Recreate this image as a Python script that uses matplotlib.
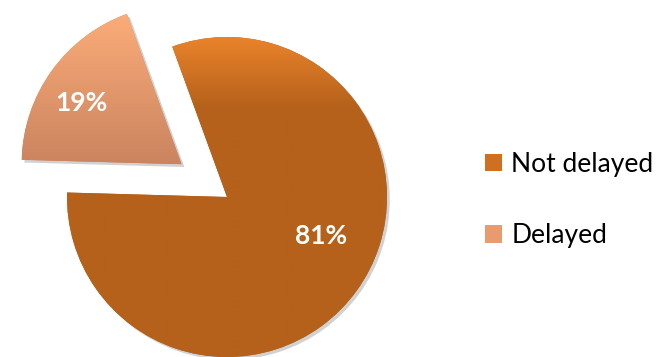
import numpy as np
import matplotlib.pyplot as plt
import matplotlib.patheffects as pe
from matplotlib.colors import LinearSegmentedColormap
from matplotlib.patches import Patch

# share of shipments
labels = ['Not delayed', 'Delayed']
shares = [81, 19]

# gradient stops per slice (top colour, bottom colour)
top_colors = ['#E9832B', '#FCAC79']
bottom_colors = ['#B5611B', '#CA845F']
legend_colors = ['#CF6F22', '#E99B70']

plt.rcParams['font.family'] = ['Lato', 'DejaVu Sans']

fig = plt.figure(figsize=(6.57, 3.57), dpi=100)
ax = fig.add_axes([0, 0, 1, 1])

# pie of radius 1, 160 px per unit, centred at (227, 197) px from top-left
xlim = (-227 / 160, 430 / 160)
ylim = (-160 / 160, 197 / 160)
ax.axis('off')

wedges, _ = ax.pie(shares, startangle=110, counterclock=False,
                   explode=[0, 0.35], radius=1,
                   colors=bottom_colors,
                   wedgeprops=dict(linewidth=0))

for i, w in enumerate(wedges):
    w.set_path_effects([pe.SimplePatchShadow(offset=(2, -2), shadow_rgbFace='black', alpha=0.18),
                        pe.Normal()])
    ext = w.get_path().get_extents()
    if i == 0:
        # orange only near the top, then the dark tone
        cmap = LinearSegmentedColormap.from_list(
            'nd', [(0, top_colors[0]), (0.22, bottom_colors[0]), (1, bottom_colors[0])])
    else:
        cmap = LinearSegmentedColormap.from_list('d', [top_colors[1], bottom_colors[1]])
    grad = np.linspace(0, 1, 256).reshape(-1, 1)
    im = ax.imshow(grad, cmap=cmap, aspect='auto', origin='upper',
                   extent=[ext.x0, ext.x1, ext.y0, ext.y1], zorder=w.get_zorder() + 0.1)
    im.set_clip_path(w)

ax.set_xlim(*xlim)
ax.set_ylim(*ylim)

# percentage labels
label_pos = [(0.59, -0.244), (-0.9125, 0.5875)]
for v, (x, y) in zip(shares, label_pos):
    ax.text(x, y, f'{v}%', color='white', fontsize=19, fontweight='bold',
            ha='center', va='center', zorder=5)

handles = [Patch(facecolor=c, edgecolor='none') for c in legend_colors]
fig.legend(handles, labels, loc='center left', bbox_to_anchor=(485 / 657, 1 - 200 / 357),
           frameon=False, fontsize=19, handlelength=0.65, handleheight=0.65,
           handletextpad=0.35, labelspacing=1.75, borderpad=0, borderaxespad=0)

fig.savefig('out.png', dpi=100)
